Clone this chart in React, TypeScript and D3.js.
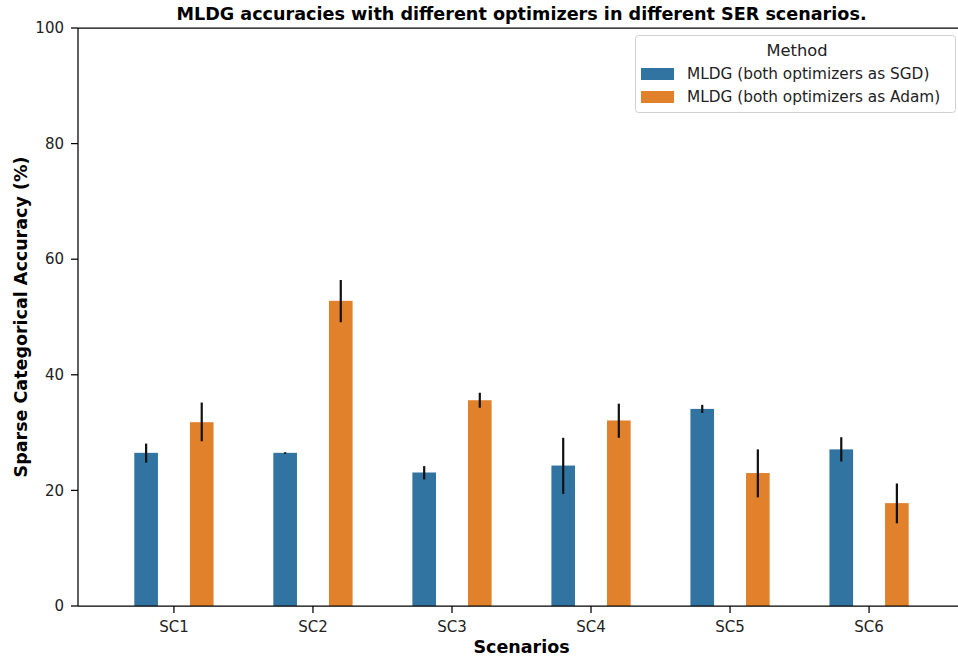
import React, { useEffect, useRef } from "react";
import * as d3 from "d3";

// Scenario categories and the two optimizer settings
const scenarios = ["SC1", "SC2", "SC3", "SC4", "SC5", "SC6"];
const methods = ["MLDG (both optimizers as SGD)", "MLDG (both optimizers as Adam)"];
const methodColors = ["#3274a1", "#e1812c"];

// Mean accuracy (%) per scenario
const sgdMean = [26.5, 26.5, 23.1, 24.3, 34.1, 27.1];
const adamMean = [31.8, 52.8, 35.6, 32.1, 23.0, 17.8];

// Confidence interval bounds (%)
const sgdLow = [24.8, 26.3, 21.9, 19.4, 33.4, 25.0];
const sgdHigh = [28.1, 26.6, 24.2, 29.1, 34.8, 29.2];
const adamLow = [28.5, 49.1, 34.3, 29.1, 18.8, 14.3];
const adamHigh = [35.2, 56.4, 36.9, 35.0, 27.1, 21.2];

const yTicks = [0, 20, 40, 60, 80, 100];

const W = 958;
const H = 659;
const margin = { left: 78, right: -7, top: 28, bottom: 53 };
const FONT = "DejaVu Sans, sans-serif";

export default function App() {
  const ref = useRef<SVGSVGElement>(null);

  useEffect(() => {
    const svg = d3.select(ref.current);
    svg.selectAll("*").remove();

    const x0 = margin.left;
    const x1 = W - margin.right;
    const y0 = H - margin.bottom;
    const y1 = margin.top;

    const x = d3.scaleBand<string>().domain(scenarios).range([x0, x1]).paddingInner(0).paddingOuter(0.19);
    const y = d3.scaleLinear().domain([0, 100]).range([y0, y1]);
    const step = x.step();
    const offsets = [-0.2 * step, 0.2 * step];
    const barW = 0.17 * step;

    const series = [
      { mean: sgdMean, low: sgdLow, high: sgdHigh },
      { mean: adamMean, low: adamLow, high: adamHigh },
    ];

    const g = svg.append("g");

    series.forEach((s, si) => {
      scenarios.forEach((sc, i) => {
        const cx = (x(sc) as number) + step / 2 + offsets[si];
        g.append("rect")
          .attr("x", cx - barW / 2)
          .attr("y", y(s.mean[i]))
          .attr("width", barW)
          .attr("height", y(0) - y(s.mean[i]))
          .attr("fill", methodColors[si]);
      });
    });

    // Error bars
    series.forEach((s, si) => {
      scenarios.forEach((sc, i) => {
        const cx = (x(sc) as number) + step / 2 + offsets[si];
        g.append("line")
          .attr("x1", cx)
          .attr("x2", cx)
          .attr("y1", y(s.low[i]))
          .attr("y2", y(s.high[i]))
          .attr("stroke", "#111")
          .attr("stroke-width", 2.2);
      });
    });

    // Spines
    const sw = 1.25;
    g.append("line").attr("x1", x0).attr("x2", x0).attr("y1", y0).attr("y2", y1).attr("stroke", "#000").attr("stroke-width", sw);
    g.append("line").attr("x1", x0).attr("x2", x1).attr("y1", y0).attr("y2", y0).attr("stroke", "#000").attr("stroke-width", sw);
    g.append("line").attr("x1", x0).attr("x2", x1).attr("y1", y1).attr("y2", y1).attr("stroke", "#000").attr("stroke-width", sw);

    // Y axis ticks
    yTicks.forEach((t) => {
      g.append("line").attr("x1", x0 - 7).attr("x2", x0).attr("y1", y(t)).attr("y2", y(t)).attr("stroke", "#000").attr("stroke-width", sw);
      g.append("text")
        .attr("x", x0 - 14)
        .attr("y", y(t))
        .attr("dy", "0.35em")
        .attr("text-anchor", "end")
        .attr("font-family", FONT)
        .attr("font-size", 15)
        .attr("fill", "#222")
        .text(t);
    });

    // X axis ticks
    scenarios.forEach((sc) => {
      const cx = (x(sc) as number) + step / 2;
      g.append("line").attr("x1", cx).attr("x2", cx).attr("y1", y0).attr("y2", y0 + 7).attr("stroke", "#000").attr("stroke-width", sw);
      g.append("text")
        .attr("x", cx)
        .attr("y", y0 + 26)
        .attr("text-anchor", "middle")
        .attr("font-family", FONT)
        .attr("font-size", 15)
        .attr("fill", "#222")
        .text(sc);
    });

    // Axis labels and title
    g.append("text")
      .attr("x", (x0 + x1) / 2)
      .attr("y", 653)
      .attr("text-anchor", "middle")
      .attr("font-family", FONT)
      .attr("font-size", 17.5)
      .attr("font-weight", "bold")
      .text("Scenarios");

    g.append("text")
      .attr("transform", `translate(27, ${(y0 + y1) / 2}) rotate(-90)`)
      .attr("text-anchor", "middle")
      .attr("font-family", FONT)
      .attr("font-size", 17.5)
      .attr("font-weight", "bold")
      .text("Sparse Categorical Accuracy (%)");

    g.append("text")
      .attr("x", (x0 + x1) / 2)
      .attr("y", 20)
      .attr("text-anchor", "middle")
      .attr("font-family", FONT)
      .attr("font-size", 17.6)
      .attr("font-weight", "bold")
      .text("MLDG accuracies with different optimizers in different SER scenarios.");

    // Legend
    const lg = g.append("g");
    lg.append("rect")
      .attr("x", 635.5)
      .attr("y", 35.5)
      .attr("width", 320)
      .attr("height", 77)
      .attr("rx", 3)
      .attr("fill", "#fff")
      .attr("fill-opacity", 0.8)
      .attr("stroke", "#d0d0d0");
    lg.append("text")
      .attr("x", 797)
      .attr("y", 56)
      .attr("text-anchor", "middle")
      .attr("font-family", FONT)
      .attr("font-size", 16.3)
      .attr("fill", "#222")
      .text("Method");
    methods.forEach((m, i) => {
      const ry = 68 + i * 23;
      lg.append("rect").attr("x", 641).attr("y", ry).attr("width", 33).attr("height", 12).attr("fill", methodColors[i]);
      lg.append("text")
        .attr("x", 687)
        .attr("y", ry + 6)
        .attr("dy", "0.35em")
        .attr("font-family", FONT)
        .attr("font-size", 15.3)
        .attr("fill", "#222")
        .text(m);
    });
  }, []);

  return (
    <svg
      ref={ref}
      width={W}
      height={H}
      style={{ position: "absolute", left: 0, top: 0, background: "#fff" }}
    />
  );
}
